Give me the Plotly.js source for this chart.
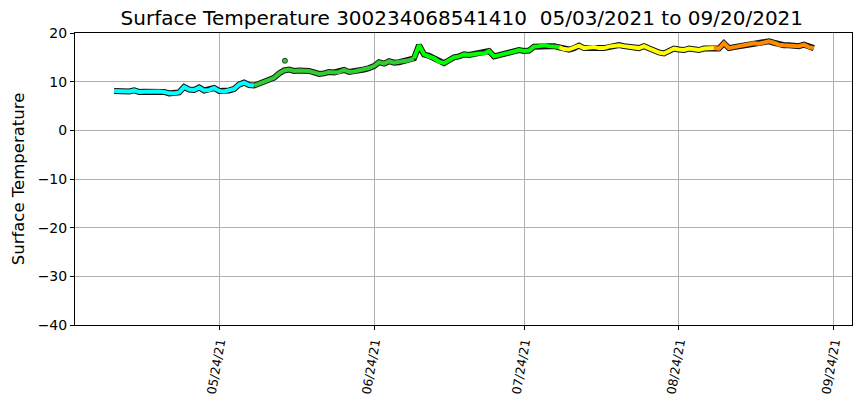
<!DOCTYPE html>
<html>
<head>
<meta charset="utf-8">
<script src="https://cdn.plot.ly/plotly-3.0.1.min.js"></script>
<style>html,body{margin:0;padding:0;background:#fff;}#chart{width:860px;height:408px;}</style>
</head>
<body>
<div id="chart"></div>
<script>
// Daily surface temperature, starting 2021-05-03 (one value per day)
const startDate = '2021-05-03';
const temps = [
  8.1, 8.0, 8.1, 8.0, 8.2, 7.9, 7.95, 8.0, 7.9, 8.0,
  7.9, 7.6, 7.6, 7.8, 8.9, 8.4, 8.3, 8.8, 8.2, 8.3,
  8.7, 8.1, 8.0, 8.2, 8.5, 9.4, 9.8, 9.3, 9.2, 9.6,
  9.8, 10.2, 10.8, 11.7, 12.3, 12.5, 12.2, 12.3, 12.3, 12.2,
  11.9, 11.6, 11.7, 12.0, 11.9, 12.0, 12.4, 12.0, 12.1, 12.3,
  12.5, 12.8, 13.2, 14.0, 13.7, 14.2, 13.9, 14.0, 14.2, 14.4,
  14.8, 17.5, 15.6, 15.3, 14.8, 14.1, 13.8, 14.4, 15.0, 15.2,
  15.6, 15.5, 15.7, 15.8, 15.8, 16.3, 15.2, 15.4, 15.7, 16.0,
  16.2, 16.5, 16.3, 16.4, 17.2, 17.3, 17.5, 17.3, 17.3, 17.1,
  16.7, 16.6, 16.9, 17.4, 16.9, 17.0, 17.1, 16.9, 16.9, 17.2,
  17.3, 17.5, 17.3, 17.1, 16.9, 16.9, 17.3, 16.8, 16.4, 16.0,
  15.8, 16.4, 16.8, 16.6, 16.5, 16.8, 16.6, 16.5, 16.8, 16.9,
  16.9, 16.8, 17.9, 16.9, 17.1, 17.3, 17.4, 17.6, 17.9, 17.8,
  18.1, 18.3, 18.0, 17.6, 17.5, 17.5, 17.4, 17.3, 17.6, 17.1,
  16.9
];
// Colour groups: [first day index, last day index, colour]
const groupStart = [0, 28, 60, 89, 120];
const groupEnd   = [28, 60, 89, 120, 140];
const groupColor = ['#00ffff', '#32cd32', '#00ff00', '#ffff00', '#ff8c00'];
// Isolated readings
const outlierDates = ['2021-06-06 04:00'];
const outlierTemps = [14.3];
const outlierColor = ['#32cd32'];

const tickDates = ['2021-05-24', '2021-06-24', '2021-07-24', '2021-08-24', '2021-09-24'];
const tickLabels = ['05/24/21', '06/24/21', '07/24/21', '08/24/21', '09/24/21'];

function dayStr(i) {
  const d = new Date(startDate + 'T00:00:00Z');
  d.setUTCDate(d.getUTCDate() + i);
  return d.toISOString().slice(0, 10);
}
const dates = temps.map((_, i) => dayStr(i));

const traces = [];
traces.push({
  x: dates, y: temps, type: 'scatter', mode: 'lines',
  line: {color: '#111', width: 6}, hoverinfo: 'skip', showlegend: false
});
for (let g = 0; g < groupStart.length; g++) {
  traces.push({
    x: dates.slice(groupStart[g], groupEnd[g] + 1),
    y: temps.slice(groupStart[g], groupEnd[g] + 1),
    type: 'scatter', mode: 'lines',
    line: {color: groupColor[g], width: 4}, showlegend: false
  });
}
traces.push({
  x: outlierDates, y: outlierTemps, type: 'scatter', mode: 'markers',
  marker: {color: outlierColor, size: 5, line: {color: '#333', width: 1}}, showlegend: false
});

const layout = {
  width: 860, height: 408,
  margin: {l: 75, r: 8, t: 33, b: 83},
  paper_bgcolor: '#fff', plot_bgcolor: '#fff',
  font: {family: 'DejaVu Sans, sans-serif', color: '#000', size: 13},
  title: {text: 'Surface Temperature 300234068541410  05/03/2021 to 09/20/2021',
          font: {size: 20, color: '#000'}, x: 0.537, xanchor: 'center', y: 0.955, yanchor: 'middle'},
  xaxis: {
    type: 'date',
    range: ['2021-04-25 04:00', '2021-09-27 15:00'],
    tickvals: tickDates, ticktext: tickLabels, tickangle: -80,
    tickfont: {size: 12.5, color: '#000'}, ticks: 'outside', ticklen: 4, tickcolor: '#000',
    showgrid: true, gridcolor: '#b0b0b0', gridwidth: 1,
    showline: true, linecolor: '#000', linewidth: 1, mirror: true, zeroline: false
  },
  yaxis: {
    range: [-40, 20], tickvals: [-40, -30, -20, -10, 0, 10, 20],
    ticktext: ['\u221240', '\u221230', '\u221220', '\u221210', '0', '10', '20'],
    tickfont: {size: 14, color: '#000'}, ticks: 'outside', ticklen: 4, tickcolor: '#000',
    showgrid: true, gridcolor: '#b0b0b0', gridwidth: 1,
    showline: true, linecolor: '#000', linewidth: 1, mirror: true, zeroline: false,
    title: {text: 'Surface Temperature', font: {size: 16.5, color: '#000'}, standoff: 8}
  }
};
Plotly.newPlot('chart', traces, layout, {displayModeBar: false, staticPlot: true});
</script>
</body>
</html>
